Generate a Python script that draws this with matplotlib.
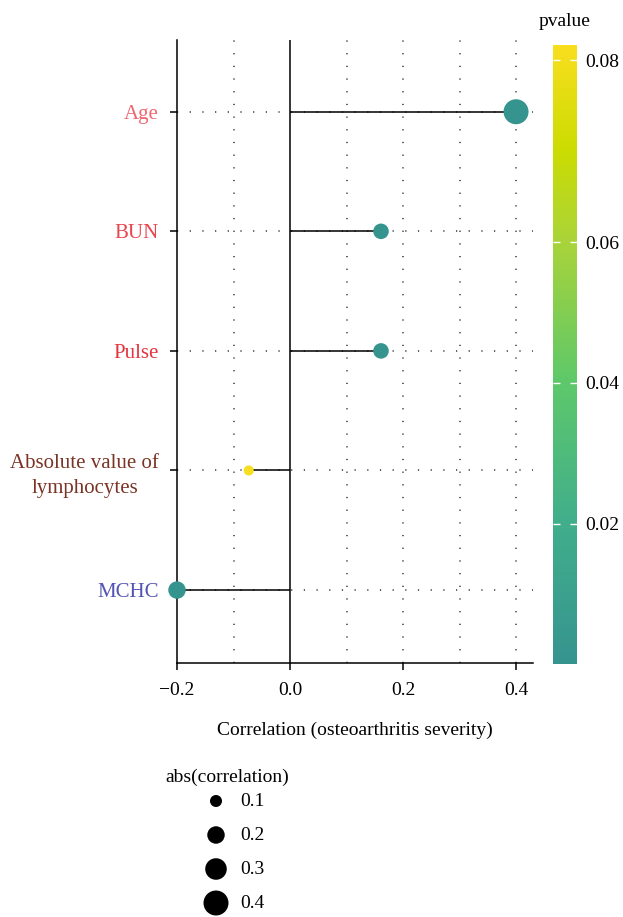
import numpy as np
import matplotlib
matplotlib.use("Agg")
import matplotlib.pyplot as plt
from matplotlib.colors import LinearSegmentedColormap, FuncNorm
from matplotlib.cm import ScalarMappable

plt.rcParams['font.family'] = ['Liberation Serif', 'DejaVu Serif']
plt.rcParams['font.size'] = 14

# variables, bottom to top
features = ['MCHC', 'Absolute value of\nlymphocytes', 'Pulse', 'BUN', 'Age']
label_colors = ['#5454b4', '#7a3324', '#e5323c', '#e8454f', '#ef6670']
correlation = [-0.20, -0.073, 0.161, 0.161, 0.40]
pvalue = [0.0001, 0.0817, 0.0003, 0.0003, 0.0001]
legend_sizes = [0.1, 0.2, 0.3, 0.4]
cbar_ticks = [0.02, 0.04, 0.06, 0.08]

cmap = LinearSegmentedColormap.from_list('pv', [
    (0.0, '#36948f'), (0.23, '#41ae8b'), (0.455, '#5dc86a'),
    (0.68, '#a8d33a'), (0.83, '#cbdc02'), (1.0, '#f8de1e')])

# colour scale is stretched a little above 0.06
def fwd(x):
    x = np.asarray(x, dtype=float)
    return np.where(x <= 0.06, x, 0.06 + 1.29 * (x - 0.06))

def inv(y):
    y = np.asarray(y, dtype=float)
    return np.where(y <= 0.06, y, 0.06 + (y - 0.06) / 1.29)

norm = FuncNorm((fwd, inv), vmin=min(pvalue), vmax=max(pvalue))

def dot_size(a):
    return 831 * np.abs(np.asarray(a)) - 8.3

fig = plt.figure(figsize=(6.23, 9.17), dpi=100)
ax = fig.add_axes([177 / 623, 254 / 917, 356 / 623, 623 / 917])

ypos = np.arange(len(features))
dotted = dict(color='#333333', lw=1.1, linestyle=(0, (0.8, 7.5)), zorder=0)
for y in ypos:
    ax.axhline(y, **dotted)
for gx in [-0.1, 0.1, 0.2, 0.3, 0.4]:
    ax.axvline(gx, **dotted)

ax.axvline(0, color='black', lw=1.1, zorder=1)
ax.hlines(ypos, 0, correlation, color='black', lw=1.1, zorder=2)
ax.scatter(correlation, ypos, s=dot_size(correlation), c=pvalue, cmap=cmap,
           norm=norm, zorder=3, edgecolors='none', clip_on=False)

ax.set_xlim(-0.2, 0.43)
ax.set_ylim(-0.61, 4.6)
ax.set_xticks([-0.2, 0.0, 0.2, 0.4])
ax.set_xticklabels(['\u22120.2', '0.0', '0.2', '0.4'])
ax.set_yticks(ypos)
ax.set_yticklabels(features, fontsize=15)
for lab, col in zip(ax.get_yticklabels(), label_colors):
    lab.set_color(col)
    lab.set_multialignment('center')
    lab.set_linespacing(1.4)
ax.tick_params(axis='y', pad=8, length=5, width=1.1)
ax.tick_params(axis='x', length=5, width=1.1, pad=9)
for side in ['top', 'right']:
    ax.spines[side].set_visible(False)
for side in ['left', 'bottom']:
    ax.spines[side].set_linewidth(1.1)
ax.set_xlabel('Correlation (osteoarthritis severity)', labelpad=16)

# colour bar
cax = fig.add_axes([553 / 623, 253 / 917, 24 / 623, 619 / 917])
cb = fig.colorbar(ScalarMappable(norm=norm, cmap=cmap), cax=cax)
cb.outline.set_visible(False)
cb.set_ticks(cbar_ticks)
cb.set_ticklabels([f'{t:.2f}' for t in cbar_ticks])
cax.tick_params(direction='in', color='white', length=5, width=1.0,
                left=True, right=True, pad=6)
cax.set_title('pvalue', fontsize=14, pad=14)

# size legend
lax = fig.add_axes([150 / 623, -3 / 917, 150 / 623, 170 / 917])
lax.set_xlim(150, 300)
lax.set_ylim(3.5, -1.5)
lax.axis('off')
lrows = np.arange(len(legend_sizes))
lax.scatter(np.full(len(legend_sizes), 216), lrows, s=dot_size(legend_sizes),
            color='black', edgecolors='none', clip_on=False)
for r, v in zip(lrows, legend_sizes):
    lax.text(240, r, f'{v:.1f}', va='center', ha='left')
lax.text(165, -0.7, 'abs(correlation)', va='center', ha='left')

fig.savefig('out.png', dpi=100)
